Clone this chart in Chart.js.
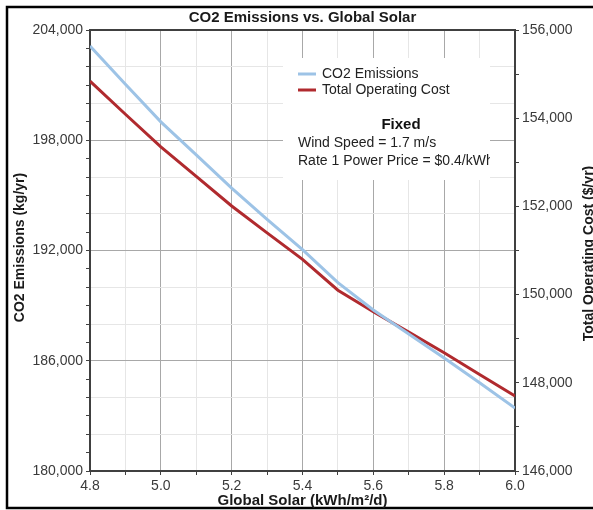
<!DOCTYPE html>
<html>
<head>
<meta charset="utf-8">
<script src="https://cdn.jsdelivr.net/npm/chart.js@4"></script>
<style>
    html, body { margin: 0; padding: 0; background: #fff; }
    #wrap { width: 593px; height: 510px; position: relative; }
</style>
</head>
<body>
<div id="wrap"><canvas id="solar-chart"></canvas></div>
<script>
// values
const globalSolar = [4.8, 4.9, 5.0, 5.1, 5.2, 5.3, 5.4, 5.5, 5.6, 5.7, 5.8, 5.9, 6.0]
const co2Emissions = [203130, 201050, 199000, 197200, 195400, 193700, 192050, 190250, 188760, 187450, 186150, 184800, 183430]
const operatingCost = [154840, 154090, 153350, 152680, 152010, 151400, 150800, 150100, 149610, 149150, 148680, 148190, 147700]

const seriesNames = ['CO2 Emissions', 'Total Operating Cost']
const seriesColors = ['#9dc3e6', '#b02a2e']
const fixedLines = ['Wind Speed = 1.7 m/s', 'Rate 1 Power Price = $0.4/kWh']

const FONT = '"Liberation Sans", Arial, sans-serif'
const MAJOR_GRID = '#a8a8a8'
const MINOR_GRID = '#e6e6e6'
const AXIS_COLOR = '#404040'
const TICK_TEXT = '#3a3a3a'

const fmt = v => v.toLocaleString('en-US')

const chartDecor = {
    id: 'chartDecor',
    beforeDraw(chart) {
        const ctx = chart.ctx
        ctx.save()
        ctx.fillStyle = '#fff'
        ctx.fillRect(0, 0, chart.width, chart.height)
        ctx.strokeStyle = '#000'
        ctx.lineWidth = 2.5
        ctx.strokeRect(7, 7, chart.width + 20, 501)
        ctx.restore()
    },
    afterDraw(chart) {
        const ctx = chart.ctx
        const area = chart.chartArea
        ctx.save()

        // top frame of plot area
        ctx.strokeStyle = AXIS_COLOR
        ctx.lineWidth = 2
        ctx.beginPath()
        ctx.moveTo(area.left, area.top)
        ctx.lineTo(area.right, area.top)
        ctx.stroke()

        // chart title
        ctx.fillStyle = '#1a1a1a'
        ctx.textAlign = 'center'
        ctx.textBaseline = 'middle'
        ctx.font = `bold 15px ${FONT}`
        ctx.fillText('CO2 Emissions vs. Global Solar', (area.left + area.right) / 2, 18)

        // axis titles
        ctx.font = `bold 15px ${FONT}`
        ctx.fillText('Global Solar (kWh/m²/d)', (area.left + area.right) / 2, 501)
        ctx.font = `bold 14px ${FONT}`
        const midY = (area.top + area.bottom) / 2
        ctx.save()
        ctx.translate(20, midY - 3)
        ctx.rotate(-Math.PI / 2)
        ctx.fillText('CO2 Emissions (kg/yr)', 0, 0)
        ctx.restore()
        ctx.save()
        ctx.translate(589, midY + 3)
        ctx.rotate(-Math.PI / 2)
        ctx.fillText('Total Operating Cost ($/yr)', 0, 0)
        ctx.restore()

        // legend box
        const box = { x: 283, y: 58, w: 207, h: 122 }
        ctx.fillStyle = '#fff'
        ctx.fillRect(box.x, box.y, box.w, box.h)
        ctx.beginPath()
        ctx.rect(box.x, box.y, box.w, box.h)
        ctx.clip()

        ctx.textAlign = 'left'
        ctx.font = `14px ${FONT}`
        seriesNames.forEach((name, i) => {
            const y = 74 + i * 16
            ctx.strokeStyle = seriesColors[i]
            ctx.lineWidth = 3
            ctx.beginPath()
            ctx.moveTo(298, y)
            ctx.lineTo(316, y)
            ctx.stroke()
            ctx.fillStyle = '#222'
            ctx.fillText(name, 322, y)
        })

        ctx.textAlign = 'center'
        ctx.font = `bold 15px ${FONT}`
        ctx.fillStyle = '#111'
        ctx.fillText('Fixed', 401, 125)

        ctx.textAlign = 'left'
        ctx.font = `14px ${FONT}`
        ctx.fillStyle = '#222'
        fixedLines.forEach((line, i) => ctx.fillText(line, 298, 143 + i * 18))

        ctx.restore()
    }
}

new Chart(document.querySelector('#solar-chart'), {
    type: 'line',
    data: {
        datasets: [
            {
                label: seriesNames[0],
                data: globalSolar.map((x, i) => ({ x, y: co2Emissions[i] })),
                borderColor: seriesColors[0],
                borderWidth: 3,
                pointRadius: 0,
                yAxisID: 'y'
            },
            {
                label: seriesNames[1],
                data: globalSolar.map((x, i) => ({ x, y: operatingCost[i] })),
                borderColor: seriesColors[1],
                borderWidth: 3,
                pointRadius: 0,
                yAxisID: 'y1'
            }
        ]
    },
    options: {
        responsive: true,
        maintainAspectRatio: false,
        animation: false,
        layout: { padding: { top: 30, left: 0, right: 0, bottom: 0 } },
        plugins: {
            legend: { display: false },
            tooltip: { enabled: false }
        },
        scales: {
            x: {
                type: 'linear',
                min: 4.8,
                max: 6.0,
                afterFit: s => { s.height = 39 },
                afterBuildTicks: s => {
                    s.ticks = globalSolar.map(v => ({ value: v }))
                },
                ticks: {
                    autoSkip: false,
                    maxRotation: 0,
                    padding: 3,
                    color: TICK_TEXT,
                    font: { family: FONT, size: 14 },
                    callback: v => Math.round(v * 10) % 2 === 0 ? v.toFixed(1) : ''
                },
                grid: {
                    color: c => Math.round(c.tick.value * 10) % 2 === 0 ? MAJOR_GRID : MINOR_GRID,
                    tickColor: AXIS_COLOR,
                    tickLength: 4
                },
                border: { color: AXIS_COLOR, width: 2 }
            },
            y: {
                position: 'left',
                min: 180000,
                max: 204000,
                afterFit: s => { s.width = 90 },
                ticks: {
                    stepSize: 1000,
                    autoSkip: false,
                    padding: 3,
                    color: TICK_TEXT,
                    font: { family: FONT, size: 14 },
                    callback: v => v % 6000 === 0 ? fmt(v) : ''
                },
                grid: {
                    color: c => c.tick.value % 6000 === 0 ? MAJOR_GRID : (c.tick.value % 2000 === 0 ? MINOR_GRID : 'rgba(0,0,0,0)'),
                    tickColor: AXIS_COLOR,
                    tickLength: 4
                },
                border: { color: AXIS_COLOR, width: 2 }
            },
            y1: {
                position: 'right',
                min: 146000,
                max: 156000,
                afterFit: s => { s.width = 78 },
                ticks: {
                    stepSize: 1000,
                    autoSkip: false,
                    padding: 3,
                    color: TICK_TEXT,
                    font: { family: FONT, size: 14 },
                    callback: v => v % 2000 === 0 ? fmt(v) : ''
                },
                grid: {
                    drawOnChartArea: false,
                    tickColor: AXIS_COLOR,
                    tickLength: 4
                },
                border: { color: AXIS_COLOR, width: 2 }
            }
        }
    },
    plugins: [chartDecor]
})
</script>
</body>
</html>
